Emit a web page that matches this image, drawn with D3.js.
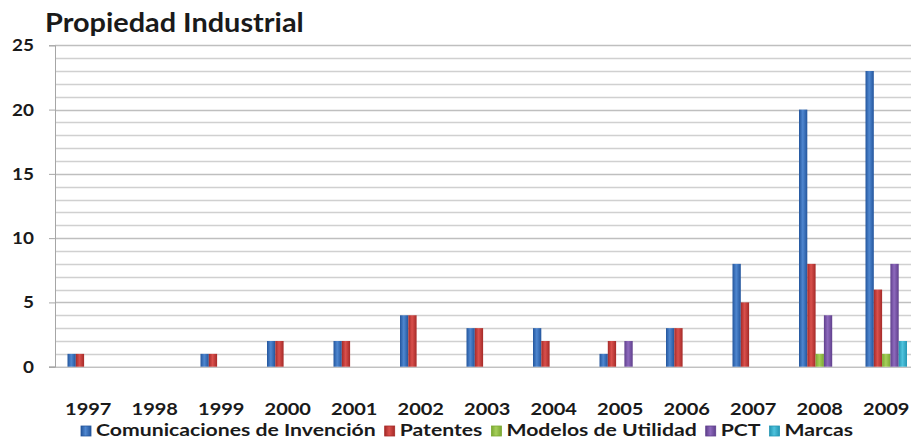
<!DOCTYPE html>
<html><head><meta charset="utf-8">
<script src="https://cdn.jsdelivr.net/npm/d3@7"></script>
<style>body{margin:0;background:#fff}svg{display:block}text{font-family:Lato,"Open Sans",sans-serif;font-weight:bold;fill:#1a1a1a}</style>
</head><body><svg id="c" width="911" height="441"></svg>
<script>
const years = ["1997","1998","1999","2000","2001","2002","2003","2004","2005","2006","2007","2008","2009"];
const seriesNames = ["Comunicaciones de Invención","Patentes","Modelos de Utilidad","PCT","Marcas"];
const comunicaciones = [1,0,1,2,2,4,3,3,1,3,8,20,23];
const patentes = [1,0,1,2,2,4,3,2,2,3,5,8,6];
const modelos = [0,0,0,0,0,0,0,0,0,0,0,1,1];
const pct = [0,0,0,0,0,0,0,0,2,0,0,4,8];
const marcas = [0,0,0,0,0,0,0,0,0,0,0,0,2];
const yTicks = [0,5,10,15,20,25];
const title = "Propiedad Industrial";

const seriesValues = [comunicaciones, patentes, modelos, pct, marcas];
const colors = [
  {dark:"#23559c", light:"#4f87d0"},
  {dark:"#a52a28", light:"#d9504c"},
  {dark:"#7aa832", light:"#a6cf5a"},
  {dark:"#5f3f8c", light:"#8e6abd"},
  {dark:"#2596b3", light:"#4fc3dd"}
];

const svg = d3.select("#c");
const defs = svg.append("defs");
colors.forEach((c,i)=>{
  const g = defs.append("linearGradient").attr("id","g"+i).attr("x1","0").attr("x2","1").attr("y1","0").attr("y2","0");
  g.append("stop").attr("offset","0").attr("stop-color",c.dark);
  g.append("stop").attr("offset","0.45").attr("stop-color",c.light);
  g.append("stop").attr("offset","1").attr("stop-color",c.dark);
});

// horizontal stretch of text to mimic the wider source typeface
const SX = 1.11;
function stretch(sel, f){
  sel.each(function(){
    const w = this.getComputedTextLength();
    d3.select(this).attr("textLength", w*f).attr("lengthAdjust","spacingAndGlyphs");
  });
}

const pLeft = 55, pRight = 919.5, pTop = 45.3, pBottom = 366.7;
const y = d3.scaleLinear().domain([0,25]).range([pBottom, pTop]);
const x0 = d3.scaleBand().domain(years).range([pLeft, pRight]).padding(0);
const bw = x0.bandwidth();
const x1 = d3.scaleBand().domain(d3.range(seriesNames.length)).range([bw*0.188, bw*0.812]).padding(0);

// gridlines
svg.append("g").selectAll("line").data(d3.range(1,26)).join("line")
  .attr("x1", pLeft).attr("x2", 911)
  .attr("y1", d=>Math.round(y(d))+0.5).attr("y2", d=>Math.round(y(d))+0.5)
  .attr("stroke", d=> d%5===0 ? "#bfbfbf" : "#d0d0d0").attr("stroke-width",1.3);

// y axis
const yAxis = d3.axisLeft(y).tickValues(yTicks).tickSize(6).tickPadding(15);
const ya = svg.append("g").attr("transform",`translate(${pLeft},0)`).call(yAxis);
ya.select(".domain").attr("stroke","#a6a6a6");
ya.selectAll(".tick line").attr("stroke","#a6a6a6");
ya.selectAll(".tick text").style("font-size","17px").style("font-family","Lato,sans-serif").style("font-weight","bold").attr("fill","#1a1a1a");
stretch(ya.selectAll(".tick text"), SX);

// baseline
svg.append("line").attr("x1",pLeft-6).attr("x2",911).attr("y1",pBottom+0.5).attr("y2",pBottom+0.5).attr("stroke","#a6a6a6");

// bars
const groups = svg.append("g").selectAll("g").data(years).join("g")
  .attr("transform", d=>`translate(${x0(d)},0)`);
groups.selectAll("rect").data((d,i)=>seriesValues.map((s,k)=>({k, v:s[i]})).filter(e=>e.v>0)).join("rect")
  .attr("x", e=>x1(e.k)).attr("width", x1.bandwidth())
  .attr("y", e=>y(e.v)).attr("height", e=>pBottom - y(e.v))
  .attr("fill", e=>`url(#g${e.k})`);

// x labels
const xAxis = d3.axisBottom(x0).tickSize(0).tickPadding(0);
const xa = svg.append("g").attr("transform",`translate(0,${pBottom})`).call(xAxis);
xa.select(".domain").remove();
xa.selectAll(".tick text").attr("dy",null).attr("y",48.5).style("font-size","17.5px").style("font-family","Lato,sans-serif").style("font-weight","bold").attr("fill","#1a1a1a");
stretch(xa.selectAll(".tick text"), SX*1.03);

// title
const tt = svg.append("text").attr("x",45).attr("y",32).style("font-size","26px").text(title);
stretch(tt, SX);

// legend
const leg = svg.append("g");
const ly = 436, legStart = 81, legEnd = 853, sq = 10, gapA = 5, gapB = 9;
const texts = seriesNames.map(n => leg.append("text").attr("y",ly).style("font-size","17px").text(n));
const natural = d3.sum(texts, t => t.node().getComputedTextLength());
const lf = (legEnd - legStart - seriesNames.length*(sq+gapA) - (seriesNames.length-1)*gapB) / natural;
let lx = legStart;
texts.forEach((t,i)=>{
  leg.append("rect").attr("x",lx).attr("y",ly-sq).attr("width",sq).attr("height",sq)
    .attr("fill",`url(#g${i})`).attr("stroke",colors[i].dark).attr("stroke-width",0.8);
  const w = t.node().getComputedTextLength()*lf;
  t.attr("x", lx+sq+gapA).attr("textLength", w).attr("lengthAdjust","spacingAndGlyphs");
  lx += sq + gapA + w + gapB;
});
</script>
</body></html>
